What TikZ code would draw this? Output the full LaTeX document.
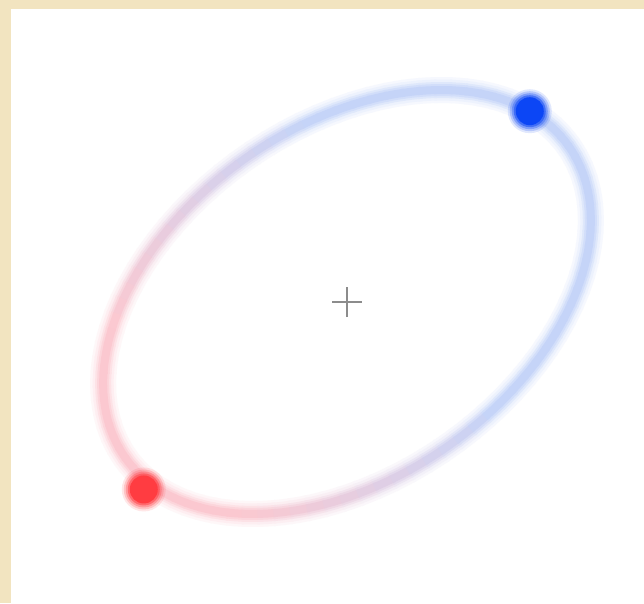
\documentclass[tikz,border=0pt]{standalone}
\usepackage{tikz}
\definecolor{parchment}{RGB}{242,228,192}
\definecolor{orbblue}{RGB}{30,90,230}
\definecolor{orbred}{RGB}{240,45,75}
\definecolor{dotblue}{RGB}{12,70,245}
\definecolor{dotred}{RGB}{255,60,65}
\tikzset{
  orbit/.style={line width=#1, line cap=butt, line join=round},
  crosshair/.style={draw=black!45, line width=1.4pt}
}

\begin{document}
\begin{tikzpicture}[x=1pt, y=1pt,
  glow/.style={fill=#1}]
\fill[parchment] (0,0) rectangle (644,603);
\fill[white] (11,0) rectangle (644,594);
\coordinate (c) at (347,301);
\begin{scope}[shift={(c)}, rotate=35]
\foreach \w/\p in {26/4,21/8,16/14,12/20,8/26}{
  \foreach \t in {0,4,...,356}{
    \pgfmathtruncatemacro{\rf}{max(0,min(100,100*(0.5+cos(\t+2-179)-0.259)))}
    \colorlet{seg}{orbred!\rf!orbblue}
    \draw[orbit=\w pt, draw=seg!\p!white] (\t:271 and 176) -- (\t+2.3:271 and 176) -- (\t+4.6:271 and 176);
  }
}
\coordinate (bluedot) at (17:271 and 176);
\coordinate (reddot) at (-274,-37);
\end{scope}
\foreach \r/\o in {22/0.12,20/0.2,18/0.3,16/0.5,14/1}{
  \fill[glow=dotblue, opacity=\o] (bluedot) circle[radius=\r];
  \fill[glow=dotred, opacity=\o] (reddot) circle[radius=\r];
}
\draw[crosshair] (c) ++(-15,0) -- ++(30,0);
\draw[crosshair] (c) ++(0,-15) -- ++(0,30);
\end{tikzpicture}
\end{document}
